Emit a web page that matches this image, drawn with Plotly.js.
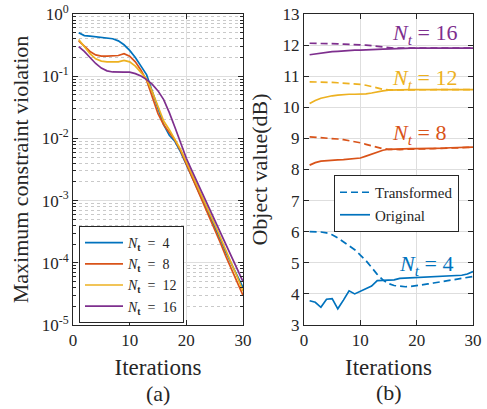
<!DOCTYPE html>
<html>
<head>
<meta charset="utf-8">
<script src="https://cdn.plot.ly/plotly-3.0.1.min.js"></script>
</head>
<body style="margin:0">
<div id="chart"></div>
<script>
// ---------- data ----------
const iterations = [1,2,3,4,5,6,7,8,9,10,11,12,13,14,15,16,17,18,19,20,21,22,23,24,25,26,27,28,29,30];

// (a) maximum constraint violation
const violNt4  = [0.50,0.45,0.44,0.43,0.42,0.42,0.40,0.37,0.32,0.26,0.20,0.145,0.105,0.056,0.030,0.0166,0.0112,0.0089,0.0060,0.0038,0.0024,0.0015,9.5e-4,6.0e-4,4.0e-4,2.4e-4,1.45e-4,9.5e-5,6.3e-5,4.0e-5];
const violNt8  = [0.37,0.30,0.25,0.22,0.21,0.21,0.21,0.215,0.23,0.21,0.17,0.125,0.085,0.047,0.025,0.0166,0.0126,0.0093,0.0063,0.0039,0.0024,0.00145,8.9e-4,5.5e-4,3.4e-4,2.1e-4,1.26e-4,7.8e-5,4.8e-5,3.0e-5];
const violNt12 = [0.39,0.30,0.23,0.19,0.175,0.17,0.17,0.17,0.18,0.17,0.145,0.115,0.09,0.056,0.032,0.019,0.0138,0.0095,0.0066,0.0042,0.0026,0.00166,1.05e-3,6.6e-4,4.2e-4,2.6e-4,1.6e-4,9.8e-5,5.9e-5,3.5e-5];
const violNt16 = [0.30,0.25,0.20,0.16,0.135,0.122,0.117,0.115,0.116,0.116,0.11,0.101,0.088,0.074,0.058,0.042,0.026,0.015,0.0083,0.0048,0.0030,0.0019,1.2e-3,7.6e-4,5.0e-4,3.2e-4,2.0e-4,1.26e-4,7.9e-5,5.0e-5];

// (b) object value (dB)
const transNt4  = [6.00,6.00,5.99,5.96,5.90,5.80,5.68,5.55,5.42,5.25,5.07,4.85,4.63,4.45,4.33,4.27,4.24,4.23,4.24,4.26,4.29,4.32,4.35,4.38,4.41,4.44,4.47,4.50,4.53,4.56];
const origNt4   = [3.78,3.73,3.57,3.83,3.85,3.52,3.80,4.10,4.00,4.08,4.15,4.25,4.43,4.44,4.44,4.45,4.50,4.51,4.52,4.53,4.53,4.54,4.55,4.56,4.57,4.58,4.59,4.60,4.64,4.72];
const transNt8  = [9.05,9.04,9.03,9.01,9.00,8.98,8.96,8.93,8.90,8.86,8.81,8.76,8.71,8.67,8.65,8.64,8.64,8.65,8.65,8.66,8.66,8.67,8.67,8.68,8.68,8.69,8.69,8.70,8.71,8.72];
const origNt8   = [8.14,8.22,8.27,8.29,8.31,8.31,8.32,8.34,8.35,8.37,8.43,8.50,8.56,8.62,8.65,8.66,8.66,8.67,8.67,8.67,8.67,8.68,8.68,8.69,8.69,8.70,8.70,8.71,8.71,8.72];
const transNt12 = [10.82,10.82,10.81,10.80,10.80,10.79,10.78,10.77,10.76,10.74,10.71,10.66,10.61,10.58,10.56,10.56,10.56,10.56,10.56,10.56,10.56,10.56,10.57,10.57,10.57,10.57,10.57,10.57,10.57,10.57];
const origNt12  = [10.12,10.22,10.29,10.34,10.37,10.39,10.41,10.42,10.42,10.42,10.43,10.46,10.50,10.53,10.55,10.56,10.56,10.57,10.57,10.57,10.57,10.57,10.57,10.57,10.57,10.57,10.57,10.57,10.57,10.57];
const transNt16 = [12.06,12.06,12.05,12.05,12.04,12.04,12.03,12.03,12.02,12.01,12.00,11.98,11.95,11.93,11.91,11.90,11.90,11.90,11.90,11.90,11.90,11.90,11.90,11.90,11.90,11.90,11.90,11.90,11.90,11.90];
const origNt16  = [11.69,11.72,11.75,11.77,11.79,11.80,11.82,11.83,11.84,11.84,11.84,11.85,11.86,11.87,11.88,11.88,11.89,11.89,11.90,11.90,11.90,11.90,11.90,11.90,11.90,11.90,11.90,11.90,11.90,11.90];

const ntLabels = ['4','8','12','16'];
const logTickVals = [1e-5,1e-4,1e-3,1e-2,1e-1,1];
const logTickText = ['10<sup>-5</sup>','10<sup>-4</sup>','10<sup>-3</sup>','10<sup>-2</sup>','10<sup>-1</sup>','10<sup>0</sup>'];

// ---------- style ----------
const colors = ['#0072BD','#D95319','#EDB120','#7E2F8E'];
const FONT = 'Liberation Serif';
const AX = '#262626';
const GRID = '#dedede';
const LW = 1.7;
const DASH = '7px,4px';

const minorVals = [];
[1e-5,1e-4,1e-3,1e-2,1e-1].forEach(d => { for (let k = 2; k <= 9; k++) minorVals.push(d * k); });

const violSeries = [violNt4, violNt8, violNt12, violNt16];
const transSeries = [transNt4, transNt8, transNt12, transNt16];
const origSeries = [origNt4, origNt8, origNt12, origNt16];

const traces = [];
violSeries.forEach((s, i) => {
  traces.push({
    x: iterations, y: s, type: 'scatter', mode: 'lines',
    name: '<i>N</i><sub><b>t</b></sub>\u2002=\u2002' + ntLabels[i],
    line: {color: colors[i], width: LW},
    xaxis: 'x', yaxis: 'y', legend: 'legend'
  });
});
transSeries.forEach((s, i) => {
  traces.push({
    x: iterations, y: s, type: 'scatter', mode: 'lines',
    name: 'Transformed', showlegend: i === 0,
    line: {color: colors[i], width: LW, dash: DASH},
    xaxis: 'x2', yaxis: 'y2', legend: 'legend2'
  });
});
origSeries.forEach((s, i) => {
  traces.push({
    x: iterations, y: s, type: 'scatter', mode: 'lines',
    name: 'Original', showlegend: i === 0,
    line: {color: colors[i], width: LW},
    xaxis: 'x2', yaxis: 'y2', legend: 'legend2'
  });
});

const yDom = [1 - 325/409, 1 - 14/409];
function ax(extra) {
  return Object.assign({
    showline: true, linecolor: AX, linewidth: 1, mirror: 'ticks',
    ticks: 'inside', ticklen: 5, tickcolor: AX, tickwidth: 1,
    showgrid: true, gridcolor: GRID, gridwidth: 1, zeroline: false,
    tickfont: {family: FONT, size: 17, color: AX}
  }, extra);
}

const layout = {
  width: 487, height: 409,
  margin: {l: 0, r: 0, t: 0, b: 0},
  paper_bgcolor: '#ffffff', plot_bgcolor: '#ffffff',
  font: {family: FONT, size: 17, color: AX},
  xaxis: ax({
    domain: [73/487, 243/487], range: [0, 30], tickvals: [0,10,20,30],
    anchor: 'y',
    title: {text: 'Iterations', font: {family: FONT, size: 23, color: AX}, standoff: 9}
  }),
  yaxis: ax({
    domain: yDom, type: 'log', range: [-5, 0], anchor: 'x',
    tickvals: logTickVals, ticktext: logTickText,
    minor: {tickvals: minorVals, showgrid: true, gridcolor: '#c9c9c9', griddash: 'dot', gridwidth: 1, ticks: 'inside', ticklen: 3, tickcolor: AX},
    title: {text: 'Maximum constraint violation', font: {family: FONT, size: 22, color: AX}, standoff: 6}
  }),
  xaxis2: ax({
    domain: [304/487, 473/487], range: [0, 30], tickvals: [0,10,20,30],
    anchor: 'y2',
    title: {text: 'Iterations', font: {family: FONT, size: 23, color: AX}, standoff: 9}
  }),
  yaxis2: ax({
    domain: yDom, range: [3, 13], dtick: 1, anchor: 'x2',
    title: {text: 'Object value(dB)', font: {family: FONT, size: 22, color: AX}, standoff: 8}
  }),
  legend: {
    x: 79/487, y: 1 - 226/409, xanchor: 'left', yanchor: 'top',
    bgcolor: '#ffffff', bordercolor: AX, borderwidth: 1,
    font: {family: FONT, size: 14, color: AX}, tracegroupgap: 0,
    itemwidth: 38
  },
  legend2: {
    x: 334/487, y: 1 - 175/409, xanchor: 'left', yanchor: 'top',
    bgcolor: '#ffffff', bordercolor: AX, borderwidth: 1,
    font: {family: FONT, size: 15, color: AX}, tracegroupgap: 0
  },
  annotations: [
    {text: '(a)', xref: 'paper', yref: 'paper', x: 158/487, y: 1 - 393/409, xanchor: 'center', yanchor: 'middle', showarrow: false, font: {family: FONT, size: 22, color: AX}},
    {text: '(b)', xref: 'paper', yref: 'paper', x: 389/487, y: 1 - 392/409, xanchor: 'center', yanchor: 'middle', showarrow: false, font: {family: FONT, size: 22, color: AX}},
    {text: '<i>N</i><sub><i>t</i></sub> = 16', xref: 'paper', yref: 'paper', x: 424/487, y: 1 - 34/409, xanchor: 'center', yanchor: 'middle', showarrow: false, font: {family: FONT, size: 22, color: colors[3]}},
    {text: '<i>N</i><sub><i>t</i></sub> = 12', xref: 'paper', yref: 'paper', x: 424/487, y: 1 - 79/409, xanchor: 'center', yanchor: 'middle', showarrow: false, font: {family: FONT, size: 22, color: colors[2]}},
    {text: '<i>N</i><sub><i>t</i></sub> = 8', xref: 'paper', yref: 'paper', x: 419/487, y: 1 - 134/409, xanchor: 'center', yanchor: 'middle', showarrow: false, font: {family: FONT, size: 22, color: colors[1]}},
    {text: '<i>N</i><sub><i>t</i></sub> = 4', xref: 'paper', yref: 'paper', x: 426/487, y: 1 - 265/409, xanchor: 'center', yanchor: 'middle', showarrow: false, font: {family: FONT, size: 22, color: colors[0]}}
  ]
};

Plotly.newPlot('chart', traces, layout, {displayModeBar: false});
</script>
</body>
</html>
